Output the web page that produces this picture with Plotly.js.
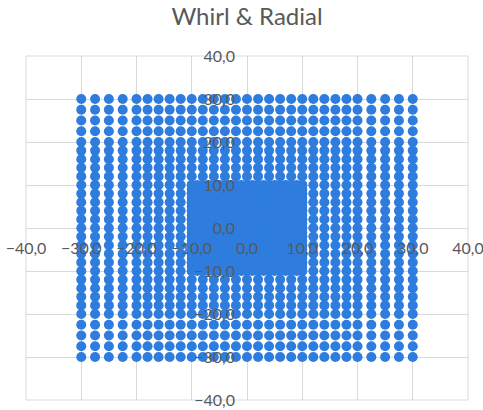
<!DOCTYPE html>
<html>
<head>
<meta charset="utf-8">
<script src="https://cdn.plot.ly/plotly-3.0.1.min.js"></script>
<style>html,body{margin:0;padding:0;background:#fff;}#chart{width:483px;height:410px;}</style>
</head>
<body>
<div id="chart"></div>
<script>
// Grid coordinates (same for x and y)
const outerCoords = [-30, -27.5, -25, -22.5, -20, -18, -16, -14, -12, -10, -8, -6, -4, -2, 0,
                     2, 4, 6, 8, 10, 12, 14, 16, 18, 20, 22.5, 25, 27.5, 30];
const innerCoords = [-10, -9, -8, -7, -6, -5, -4, -3, -2, -1, 0, 1, 2, 3, 4, 5, 6, 7, 8, 9, 10];
const tickVals = [-40, -30, -20, -10, 0, 10, 20, 30, 40];
const chartTitle = 'Whirl & Radial';

const xs = [], ys = [];
function addGrid(a, b) {
  for (const y of b) for (const x of a) { xs.push(x); ys.push(y); }
}
addGrid(outerCoords, outerCoords);
addGrid(innerCoords, innerCoords);

const blue = '#2E7DDE';
const trace = {
  type: 'scatter', mode: 'markers', x: xs, y: ys,
  marker: {color: blue, size: 10, line: {width: 0}},
  hoverinfo: 'none', showlegend: false, cliponaxis: false
};

const font = {family: 'Lato, "Open Sans", sans-serif', size: 16, color: '#595959'};
const axisCommon = {
  range: [-40, 40], tickvals: tickVals, tickformat: '.1f',
  showgrid: true, gridcolor: '#D9D9D9', gridwidth: 1,
  zeroline: true, zerolinecolor: '#D9D9D9', zerolinewidth: 1,
  showline: false, ticks: '', anchor: 'free', position: 0.5,
  layer: 'above traces', automargin: false, fixedrange: true,
  ticklabeloverflow: 'allow',
  tickfont: font
};

const layout = {
  width: 483, height: 410,
  margin: {l: 26, r: 15, t: 56, b: 10, pad: 0},
  paper_bgcolor: '#fff', plot_bgcolor: '#fff',
  separators: ',.',
  font: font,
  title: {text: chartTitle, x: 0.5, xref: 'paper', xanchor: 'center',
          y: 1 - 17/410, yref: 'container', yanchor: 'middle',
          font: {family: 'Lato, "Open Sans", sans-serif', size: 24, color: '#595959'}},
  xaxis: Object.assign({}, axisCommon, {ticklabelstandoff: 9}),
  yaxis: Object.assign({}, axisCommon, {ticklabelstandoff: 12}),
  shapes: [{type: 'rect', xref: 'paper', yref: 'paper', x0: 0, x1: 1, y0: 0, y1: 1,
            line: {color: '#D9D9D9', width: 1}, fillcolor: 'rgba(0,0,0,0)', layer: 'below'}]
};

Plotly.newPlot('chart', [trace], layout, {displayModeBar: false, staticPlot: true});
</script>
</body>
</html>
